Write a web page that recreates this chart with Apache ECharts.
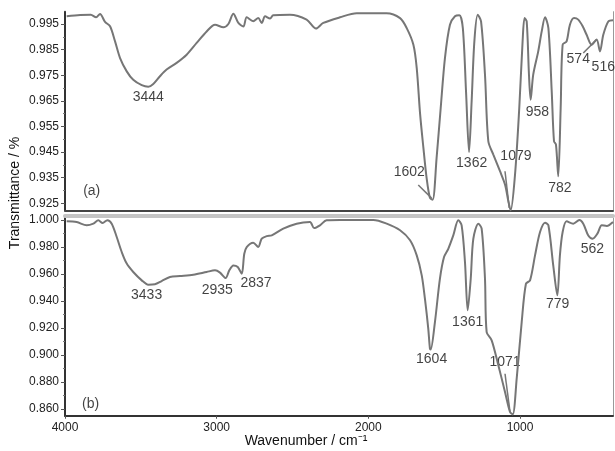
<!DOCTYPE html>
<html><head><meta charset="utf-8">
<script src="https://cdn.jsdelivr.net/npm/echarts@6/dist/echarts.min.js"></script>
<style>html,body{margin:0;padding:0;background:#fff}#c{width:615px;height:451px}</style>
</head><body><div id="c"></div>
<script>
// ---- spectrum (a) ----
const topWavenumber = [3989,3900,3830,3795,3769,3736,3703,3670,3637,3593,3550,3494,3451,3418,3374,3330,3264,3198,3132,3066,3011,2956,2923,2890,2857,2824,2802,2759,2726,2703,2681,2648,2627,2517,2407,2345,2297,2187,2077,1880,1791,1747,1703,1681,1659,1637,1616,1594,1576,1550,1523,1495,1462,1429,1400,1377,1356,1336,1319,1301,1279,1257,1231,1209,1176,1132,1099,1077,1062,1033,1005,983,970,956,941,930,913,880,857,835,813,791,776,763,748,732,719,693,671,644,616,587,561,528,495,473,451,418,387];
const topTransmittance = [0.9980,0.9985,0.9986,0.9976,0.9989,0.9958,0.9941,0.9882,0.9817,0.9765,0.9732,0.9711,0.9705,0.9716,0.9746,0.9772,0.9798,0.9830,0.9876,0.9921,0.9947,0.9937,0.9950,0.9990,0.9954,0.9940,0.9976,0.9961,0.9973,0.9954,0.9980,0.9971,0.9984,0.9986,0.9967,0.9932,0.9954,0.9976,0.9992,0.9992,0.9973,0.9934,0.9869,0.9778,0.9600,0.9466,0.9349,0.9271,0.9264,0.9427,0.9622,0.9817,0.9947,0.9980,0.9984,0.9934,0.9687,0.9450,0.9648,0.9882,0.9986,0.9960,0.9752,0.9492,0.9440,0.9375,0.9323,0.9258,0.9222,0.9362,0.9622,0.9882,0.9973,0.9960,0.9752,0.9654,0.9752,0.9843,0.9921,0.9976,0.9934,0.9687,0.9492,0.9479,0.9355,0.9622,0.9869,0.9882,0.9947,0.9973,0.9967,0.9941,0.9908,0.9869,0.9889,0.9843,0.9908,0.9960,0.9965];
// ---- spectrum (b) ----
const bottomWavenumber = [3989,3923,3857,3813,3780,3752,3721,3692,3659,3626,3593,3550,3494,3451,3407,3363,3308,3242,3154,3066,3011,2978,2941,2917,2890,2861,2835,2818,2802,2759,2726,2703,2670,2637,2561,2473,2385,2358,2319,2275,2187,1967,1879,1791,1725,1681,1648,1627,1605,1594,1589,1561,1528,1501,1473,1440,1407,1385,1363,1345,1325,1308,1275,1253,1231,1220,1187,1143,1099,1066,1048,1022,989,961,934,901,868,835,813,781,754,737,719,693,649,609,583,550,521,490,461,428,387];
const bottomTransmittance = [0.9990,0.9985,0.9961,0.9973,0.9998,0.9978,0.9999,0.9973,0.9874,0.9763,0.9677,0.9615,0.9553,0.9521,0.9524,0.9548,0.9578,0.9585,0.9595,0.9615,0.9627,0.9610,0.9570,0.9627,0.9664,0.9652,0.9602,0.9750,0.9800,0.9832,0.9800,0.9862,0.9881,0.9886,0.9936,0.9973,0.9985,0.9941,0.9961,0.9998,1.0000,1.0000,0.9973,0.9924,0.9850,0.9738,0.9590,0.9417,0.9195,0.9047,0.9040,0.9244,0.9566,0.9726,0.9787,0.9886,0.9998,0.9961,0.9689,0.9331,0.9565,0.9861,0.9973,0.9936,0.9565,0.9170,0.9109,0.8924,0.8726,0.8578,0.8560,0.8825,0.9244,0.9528,0.9553,0.9738,0.9911,0.9980,0.9961,0.9664,0.9442,0.9738,0.9911,0.9990,0.9973,1.0000,0.9973,0.9886,0.9862,0.9899,0.9961,0.9956,0.9985];
// ---- tick labels ----
const xTickLabels = ['1000','2000','3000','4000'];
const topTickLabels = ['0.925','0.935','0.945','0.955','0.965','0.975','0.985','0.995'];
const topMinorTicks = [0.930,0.940,0.950,0.960,0.970,0.980,0.990];
const bottomTickLabels = ['0.860','0.880','0.900','0.920','0.940','0.960','0.980','1.000'];
const bottomMinorTicks = [0.870,0.890,0.910,0.930,0.950,0.970,0.990];
// ---- peak annotations ----
const topPeakText = ['3444','1602','1362','1079','958','782','574','516','(a)'];
const topPeakX = [3451,1730,1319,1027,886,737,616,451,3824];
const topPeakY = [0.9664,0.9372,0.9407,0.9433,0.9605,0.9310,0.9811,0.9781,0.9299];
const bottomPeakText = ['3433','2935','2837','1604','1361','1071','779','562','(b)'];
const bottomPeakX = [3462,2996,2741,1583,1345,1099,752,523,3831];
const bottomPeakY = [0.9442,0.9484,0.9533,0.8973,0.9244,0.8948,0.9380,0.9787,0.8639];
// leader lines [x1, y1, x2, y2]
const topLeaders = [[1671,0.9321,1583,0.9270],[1099,0.9375,1071,0.9232],[583,0.9837,495,0.9889]];
const bottomLeaders = [[1099,0.8861,1066,0.8578]];

const X_MIN = 387, X_MAX = 4000;
const TOP_MIN = 0.9222, TOP_MAX = 0.9998;
const BOT_MIN = 0.855, BOT_MAX = 1.0015;
const FONT = 'Liberation Sans, Arial, sans-serif';
const curveColor = '#767676';

const chart = echarts.init(document.getElementById('c'), null, {renderer:'canvas'});

function zip(a,b){ return a.map((v,i)=>[v,b[i]]); }
function xAxisBase(grid){
  return {type:'value', gridIndex:grid, min:X_MIN, max:X_MAX, inverse:true,
    splitLine:{show:false}, axisTick:{show:false}, axisLabel:{show:false}};
}
function yMajor(grid,min,max,labels){
  const vals = labels.map(Number);
  return {type:'value', gridIndex:grid, min:min, max:max, position:'left',
    splitLine:{show:false},
    axisLine:{show:true, lineStyle:{color:'#333', width:2}},
    axisTick:{show:true, inside:false, length:4, customValues:vals, lineStyle:{color:'#555', width:1}},
    axisLabel:{show:true, customValues:vals, margin:6, color:'#222', fontSize:12, fontFamily:FONT,
      formatter:(v)=>{ const s = labels.find(l=>Math.abs(Number(l)-v)<1e-6); return s!==undefined?s:''; }}};
}
function yMinor(grid,min,max,ticks){
  return {type:'value', gridIndex:grid, min:min, max:max, position:'left',
    splitLine:{show:false}, axisLine:{show:false},
    axisTick:{show:true, inside:false, length:2, customValues:ticks, lineStyle:{color:'#777', width:1}},
    axisLabel:{show:false}};
}
function yRight(grid,min,max){
  return {type:'value', gridIndex:grid, min:min, max:max, position:'right',
    splitLine:{show:false}, axisTick:{show:false}, axisLabel:{show:false},
    axisLine:{show:true, lineStyle:{color:'#999', width:1}}};
}
function labelSeries(xi, yi, xs, ys, texts){
  return {type:'scatter', xAxisIndex:xi, yAxisIndex:yi, symbolSize:0, silent:true,
    data: xs.map((x,i)=>({value:[x, ys[i]], name:texts[i]})),
    label:{show:true, position:'inside', formatter:(p)=>p.name, color:'#111', fontSize:14, fontFamily:FONT}};
}
function leaderSeries(xi, yi, segs){
  return segs.map(s=>({type:'line', xAxisIndex:xi, yAxisIndex:yi, symbol:'none', silent:true,
    data:[[s[0],s[1]],[s[2],s[3]]], lineStyle:{color:curveColor, width:1.5}}));
}

const topAxisTopX = Object.assign(xAxisBase(0), {position:'bottom', axisLine:{show:true, lineStyle:{color:'#444', width:2}}});
const botX = Object.assign(xAxisBase(1), {position:'bottom',
  axisLine:{show:true, lineStyle:{color:'#333', width:2}},
  axisTick:{show:true, length:3, customValues:xTickLabels.map(Number), lineStyle:{color:'#555'}},
  axisLabel:{show:true, customValues:xTickLabels.map(Number), margin:6, color:'#222', fontSize:12, fontFamily:FONT,
    formatter:(v)=>{ const s = xTickLabels.find(l=>Math.abs(Number(l)-v)<1e-6); return s!==undefined?s:''; }}});
const botTopX = Object.assign(xAxisBase(1), {position:'top', offset:2,
  axisLine:{show:true, lineStyle:{color:'#c4c4c4', width:4}}});

const option = {
  backgroundColor:'#fff',
  animation:false,
  title:{text:'Wavenumber / cm\u207B\u00B9', left:306, top:434, textAlign:'center',
    textStyle:{fontSize:14, fontWeight:'normal', color:'#111', fontFamily:FONT}, padding:0},
  graphic:[{type:'text', x:15, y:193, rotation:Math.PI/2,
    style:{text:'Transmittance / %', textAlign:'center', textVerticalAlign:'middle', fill:'#111', font:'14px '+FONT}}],
  grid:[
    {left:65, width:548, top:11.7, height:198.7},
    {left:65, width:548, top:218, height:197.75}
  ],
  xAxis:[topAxisTopX, botX, botTopX],
  yAxis:[
    yMajor(0,TOP_MIN,TOP_MAX,topTickLabels), yMinor(0,TOP_MIN,TOP_MAX,topMinorTicks), yRight(0,TOP_MIN,TOP_MAX),
    yMajor(1,BOT_MIN,BOT_MAX,bottomTickLabels), yMinor(1,BOT_MIN,BOT_MAX,bottomMinorTicks), yRight(1,BOT_MIN,BOT_MAX)
  ],
  series:[
    {type:'line', xAxisIndex:0, yAxisIndex:0, data:zip(topWavenumber, topTransmittance), symbol:'none', smooth:0.3,
      lineStyle:{color:curveColor, width:2}},
    {type:'line', xAxisIndex:1, yAxisIndex:3, data:zip(bottomWavenumber, bottomTransmittance), symbol:'none', smooth:0.3,
      lineStyle:{color:curveColor, width:2}},
    labelSeries(0,0,topPeakX,topPeakY,topPeakText),
    labelSeries(1,3,bottomPeakX,bottomPeakY,bottomPeakText),
    ...leaderSeries(0,0,topLeaders),
    ...leaderSeries(1,3,bottomLeaders)
  ]
};
chart.setOption(option);
</script>
</body></html>
